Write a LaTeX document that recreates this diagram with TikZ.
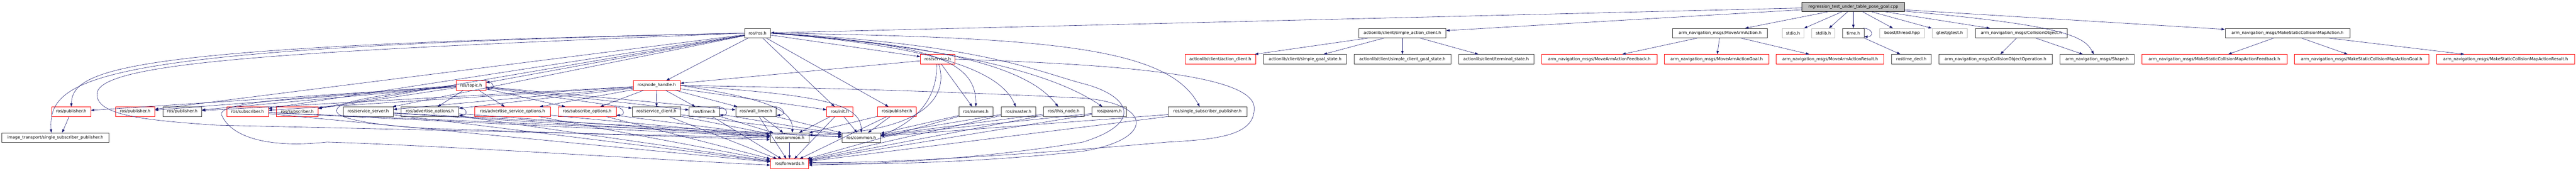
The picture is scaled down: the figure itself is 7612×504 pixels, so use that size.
\documentclass[tikz,border=0pt]{standalone}
\usepackage{fontspec}
\newfontfamily\djv{DejaVu Sans}
\usetikzlibrary{arrows.meta}
\definecolor{edgec}{HTML}{191970}
\definecolor{bord}{HTML}{404040}
\definecolor{redb}{HTML}{FF0000}
\definecolor{greyb}{HTML}{BFBFBF}
\definecolor{rootfill}{HTML}{BFBFBF}
\begin{document}
\begin{tikzpicture}[x=1pt,y=1pt,
  box/.style={rectangle, minimum height=28pt, inner sep=0pt, line width=1.2pt, font={\djv\fontsize{12.2}{14}\selectfont}},
  nb/.style={box, draw=bord},
  nr/.style={box, draw=redb},
  ng/.style={box, draw=greyb},
  e/.style={draw=edgec, line width=0.9pt, -{Triangle[length=10pt,width=7pt]}}]
\useasboundingbox (0,0) rectangle (7612,-504);
% row 1
\node[nb,fill=rootfill,draw=black,minimum width=303pt] (ROOT) at (5476.5,-20) {regression\_test\_under\_table\_pose\_goal.cpp};
% row 2
\node[nb,minimum width=77pt] (ROS) at (2238.5,-98) {ros/ros.h};
\node[nb,minimum width=258pt] (SAC) at (4144,-98) {actionlib/client/simple\_action\_client.h};
\node[nb,minimum width=280pt] (MAA) at (5083,-98) {arm\_navigation\_msgs/MoveArmAction.h};
\node[ng,minimum width=64pt] (STDIO) at (5298,-98) {stdio.h};
\node[ng,minimum width=68pt] (STDLIB) at (5388,-98) {stdlib.h};
\node[nb,minimum width=63pt] (TIME) at (5476.5,-98) {time.h};
\node[ng,minimum width=133pt] (BOOST) at (5620.5,-98) {boost/thread.hpp};
\node[ng,minimum width=104pt] (GTEST) at (5761,-98) {gtest/gtest.h};
\node[nb,minimum width=272pt] (CO) at (5973,-98) {arm\_navigation\_msgs/CollisionObject.h};
\node[nb,minimum width=369pt] (MSA) at (6759.5,-98) {arm\_navigation\_msgs/MakeStaticCollisionMapAction.h};
% row 3
\node[nr,minimum width=102pt] (SV) at (2771,-175) {ros/service.h};
\node[nr,minimum width=208pt] (AC) at (3606,-175) {actionlib/client/action\_client.h};
\node[nb,minimum width=245pt] (SGS) at (3856.5,-175) {actionlib/client/simple\_goal\_state.h};
\node[nb,minimum width=286pt] (SCGS) at (4144,-175) {actionlib/client/simple\_client\_goal\_state.h};
\node[nb,minimum width=222pt] (TS) at (4421,-175) {actionlib/client/terminal\_state.h};
\node[nr,minimum width=340pt] (MAF) at (4726,-175) {arm\_navigation\_msgs/MoveArmActionFeedback.h};
\node[nr,minimum width=309pt] (MAG) at (5072.5,-175) {arm\_navigation\_msgs/MoveArmActionGoal.h};
\node[nr,minimum width=318pt] (MAR) at (5408,-175) {arm\_navigation\_msgs/MoveArmActionResult.h};
\node[nb,minimum width=116pt] (RD) at (5648,-175) {rostime\_decl.h};
\node[nb,minimum width=335pt] (COO) at (5896.5,-175) {arm\_navigation\_msgs/CollisionObjectOperation.h};
\node[nb,minimum width=220pt] (SH) at (6197,-175) {arm\_navigation\_msgs/Shape.h};
\node[nr,minimum width=429pt] (MSF) at (6543.5,-175) {arm\_navigation\_msgs/MakeStaticCollisionMapActionFeedback.h};
\node[nr,minimum width=397pt] (MSG) at (6978.5,-175) {arm\_navigation\_msgs/MakeStaticCollisionMapActionGoal.h};
\node[nr,minimum width=408pt] (MSR) at (7404,-175) {arm\_navigation\_msgs/MakeStaticCollisionMapActionResult.h};
% row 4
\node[nr,minimum width=88pt] (TO) at (1392,-252.5) {ros/topic.h};
\node[nr,minimum width=139pt] (NH) at (1940.5,-252.5) {ros/node\_handle.h};
% row 5
\node[nr,minimum width=115pt] (P1) at (210.5,-330) {ros/publisher.h};
\node[nr,minimum width=115pt] (P2) at (399.5,-330) {ros/publisher.h};
\node[nb,minimum width=115pt] (P3) at (538.5,-330) {ros/publisher.h};
\node[nr,minimum width=123pt] (S1) at (731.5,-330) {ros/subscriber.h};
\node[nr,minimum width=123pt] (S2) at (878.5,-330) {ros/subscriber.h};
\node[nb,minimum width=148pt] (SS) at (1088,-330) {ros/service\_server.h};
\node[nb,minimum width=171pt] (AO) at (1270.5,-330) {ros/advertise\_options.h};
\node[nr,minimum width=223pt] (ASO) at (1514.5,-330) {ros/advertise\_service\_options.h};
\node[nr,minimum width=172pt] (SO) at (1735,-330) {ros/subscribe\_options.h};
\node[nb,minimum width=144pt] (SC) at (1940,-330) {ros/service\_client.h};
\node[nb,minimum width=90pt] (TI) at (2081,-330) {ros/timer.h};
\node[nb,minimum width=120pt] (WT) at (2234,-330) {ros/wall\_timer.h};
\node[nr,minimum width=77pt] (IN) at (2481.5,-330) {ros/init.h};
\node[nr,minimum width=115pt] (P4) at (2650.5,-330) {ros/publisher.h};
\node[nb,minimum width=101pt] (NA) at (2883.5,-330) {ros/names.h};
\node[nb,minimum width=103pt] (MA) at (3009.5,-330) {ros/master.h};
\node[nb,minimum width=120pt] (TN) at (3143,-330) {ros/this\_node.h};
\node[nb,minimum width=101pt] (PA) at (3277.5,-330) {ros/param.h};
\node[nb,minimum width=232pt] (SSP) at (3568,-330) {ros/single\_subscriber\_publisher.h};
% row 6
\node[nb,minimum width=317pt] (ITSSP) at (163.5,-407) {image\_transport/single\_subscriber\_publisher.h};
\node[nb,minimum width=114pt] (CM1) at (2333,-407) {ros/common.h};
\node[nb,minimum width=114pt] (CM2) at (2545,-407) {ros/common.h};
% row 7
\node[nr,minimum width=112pt] (FW) at (2333,-484) {ros/forwards.h};

% ---- root edges
\draw[e] (ROOT) -- (ROS);
\draw[e] (ROOT) -- (SAC);
\draw[e] (ROOT) -- (MAA);
\draw[e] (ROOT) -- (STDIO);
\draw[e] (ROOT) -- (STDLIB);
\draw[e] (ROOT) -- (TIME);
\draw[e] (ROOT) -- (BOOST);
\draw[e] (ROOT) -- (GTEST);
\draw[e] (ROOT) -- (CO);
\draw[e] (ROOT) .. controls (6110,-75) and (6160,-110) .. ([xshift=-10pt]SH.north);
\draw[e] (ROOT) -- (MSA);
% ---- right side
\draw[e] (SAC) -- (AC);
\draw[e] (SAC) -- (SGS);
\draw[e] (SAC) -- (SCGS);
\draw[e] (SAC) -- (TS);
\draw[e] (MAA) -- (MAF);
\draw[e] (MAA) -- (MAG);
\draw[e] (MAA) -- (MAR);
\draw[e] ([xshift=-4pt]TIME.north east) .. controls +(30,0) and +(30,0) .. ([yshift=4pt]TIME.south east);
\draw[e] (TIME) -- (RD);
\draw[e] (CO) -- (COO);
\draw[e] (CO) -- (SH);
\draw[e] (MSA) -- (MSF);
\draw[e] (MSA) -- (MSG);
\draw[e] (MSA) -- (MSR);
% ---- ros/ros.h
\draw[e] (ROS.west) .. controls (300,-140) and (140,-220) .. ([xshift=-12pt]ITSSP.north);
\draw[e] (ROS.west) .. controls (380,-135) and (215,-200) .. (P1.north);
\draw[e] (ROS.west) .. controls (900,-150) and (300,-180) .. (287,-275) .. controls (280,-340) and (420,-355) .. (640,-370) -- (CM1.west);
\draw[e] (ROS) -- (P2);
\draw[e] (ROS) -- (S1);
\draw[e] (ROS) -- (S2);
\draw[e] (ROS) -- (SS);
\draw[e] (ROS) -- (TO);
\draw[e] (ROS) -- (NH);
\draw[e] (ROS) -- (IN);
\draw[e] (ROS) -- (SV);
\draw[e] (ROS) -- ([xshift=-25pt]P4.north);
\draw[e] (ROS.east) .. controls (2750,-130) and (2885,-180) .. (NA.north);
\draw[e] (ROS.east) .. controls (2800,-140) and (2960,-220) .. ([xshift=-8pt]MA.north);
\draw[e] (ROS.east) .. controls (2900,-140) and (3060,-230) .. ([xshift=-16pt]TN.north);
\draw[e] (ROS.east) .. controls (2950,-150) and (3160,-250) .. ([xshift=-20pt]PA.north);
\draw[e] (ROS.east) .. controls (3100,-110) and (3450,-140) .. ([xshift=-23pt]SSP.north);
\draw[e] (ROS.east) .. controls (2900,-130) and (3060,-210) .. (3200,-247) .. controls (3330,-280) and (3390,-360) .. (3200,-420) .. controls (2900,-470) and (2600,-484) .. ([yshift=-4pt]FW.east);
% ---- ros/topic.h
\draw[e] ([xshift=-8pt]TO.north east) .. controls +(30,0) and +(30,0) .. ([yshift=4pt]TO.south east);
\draw[e] (TO) -- ([yshift=4pt]P1.east);
\draw[e] (TO) -- (P2);
\draw[e] (TO) -- (P3);
\draw[e] (TO) -- (S2);
\draw[e] (TO) -- (AO);
\draw[e] (TO) -- (ASO);
\draw[e] (TO) -- (SO);
\draw[e] (TO) -- (SC);
\draw[e] (TO) -- (TI);
\draw[e] (TO) -- (WT);
\draw[e] (TO.west) .. controls (900,-290) and (640,-300) .. (655,-340) .. controls (680,-400) and (780,-440) .. (966,-420) .. controls (1300,-430) and (1900,-470) .. ([yshift=-4pt]FW.west);
\draw[e] (TO.west) .. controls (1050,-290) and (990,-305) .. (995,-330) .. controls (1000,-355) and (1150,-375) .. (1280,-380) -- ([yshift=-6pt]CM1.west);
% ---- ros/node_handle.h
\draw[e] (NH) -- (P3);
\draw[e] (NH) -- (S1);
\draw[e] (NH) -- (SS);
\draw[e] (NH) -- (AO);
\draw[e] (NH) -- (ASO);
\draw[e] (NH) -- (SO);
\draw[e] (NH) -- (SC);
\draw[e] (NH) -- (TI);
\draw[e] (NH) -- (WT);
\draw[e] (NH) -- (IN);
\draw[e] (NH.east) .. controls (2250,-290) and (2345,-320) .. ([xshift=8pt]CM1.north);
\draw[e] (NH.east) .. controls (2400,-280) and (2545,-300) .. (CM2.north);
\draw[e] (NH.east) .. controls (2600,-262) and (3000,-280) .. (3200,-290) .. controls (3400,-305) and (3420,-410) .. (3200,-447) .. controls (2900,-480) and (2600,-487) .. (FW.east);
% ---- ros/service.h
\draw[e] (SV) -- (NH);
\draw[e] (SV) -- (NA);
\draw[e] ([xshift=-3pt]SV.south) .. controls (2770,-300) and (2700,-360) .. ([yshift=5pt]CM2.east);
\draw[e] ([xshift=3pt]SV.south) .. controls (2800,-270) and (2760,-390) .. ([yshift=8pt]CM1.east);
\draw[e] (SV.east) .. controls (3300,-190) and (3700,-220) .. (3706,-317) .. controls (3710,-400) and (3600,-412) .. (3450,-420) .. controls (3000,-460) and (2600,-484) .. ([yshift=4pt]FW.east);
% ---- row 5 to bottom
\draw[e] (P1) -- ([xshift=20pt]ITSSP.north);
\draw[e] ([xshift=-8pt]AO.north east) .. controls +(30,0) and +(30,0) .. ([yshift=4pt]AO.south east);
\draw[e] ([xshift=-8pt]SO.north east) .. controls +(30,0) and +(30,0) .. ([yshift=4pt]SO.south east);
\draw[e] ([xshift=-8pt]TI.north east) .. controls +(30,0) and +(30,0) .. ([yshift=4pt]TI.south east);
\draw[e] ([xshift=-8pt]WT.north east) .. controls +(30,0) and +(30,0) .. ([yshift=4pt]WT.south east);
\foreach \s in {S1,SS,AO,ASO,SO,SC,TI,WT,IN} {
  \draw[e] (\s) -- (CM1);
  \draw[e] (\s) -- (FW);
}
\foreach \s in {S1,SS,SC,TI,WT,IN} {
  \draw[e] (\s) -- (CM2);
}
\foreach \s in {P4,NA,MA,TN,PA,SSP} {
  \draw[e] (\s) -- (CM2);
  \draw[e] (\s) -- (FW);
}
\draw[e] (P4) -- (CM1);
\draw[e] (CM1) -- (FW);
\end{tikzpicture}
\end{document}
